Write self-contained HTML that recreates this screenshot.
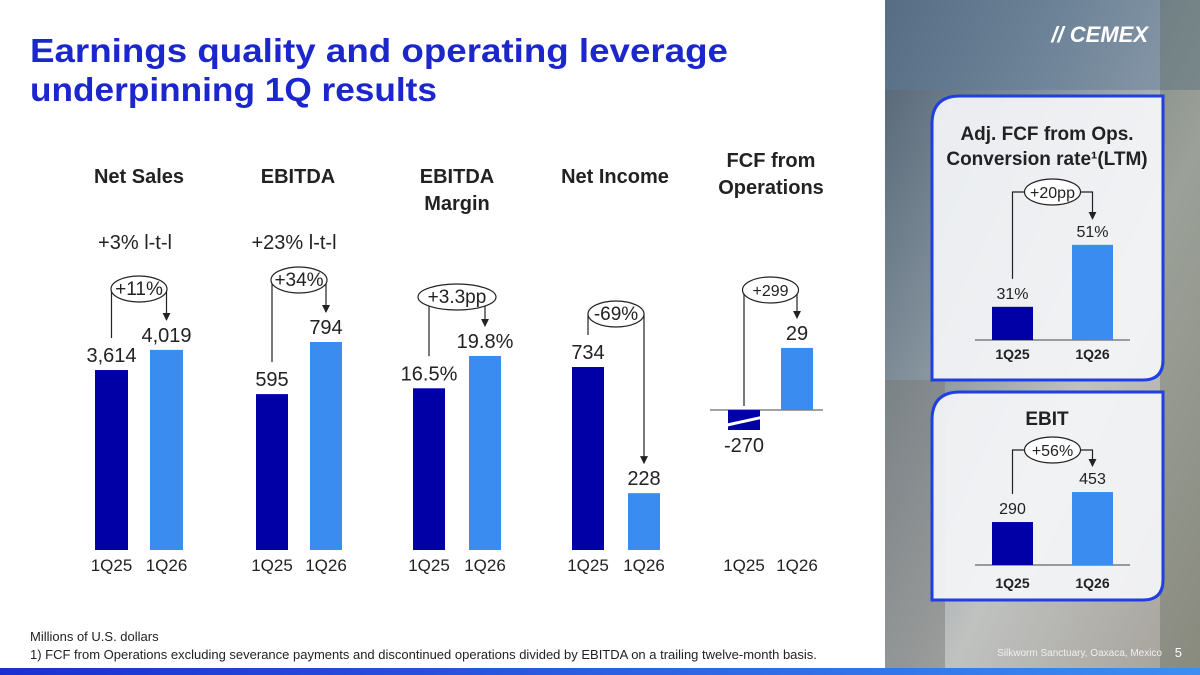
<!DOCTYPE html>
<html><head><meta charset="utf-8"><style>
html,body{margin:0;padding:0;background:#fff}
svg{display:block;font-family:"Liberation Sans",sans-serif}
</style></head><body>
<svg id="s" width="1200" height="675" viewBox="0 0 1200 675" xmlns="http://www.w3.org/2000/svg">
<defs>
<linearGradient id="photo" x1="0" y1="0" x2="1" y2="1">
<stop offset="0" stop-color="#4f6070"/><stop offset="0.3" stop-color="#7f8e99"/><stop offset="0.6" stop-color="#c0c2c0"/><stop offset="1" stop-color="#a39f97"/></linearGradient>
<linearGradient id="strip" x1="0" x2="1"><stop offset="0" stop-color="#1a2fd0"/><stop offset="1" stop-color="#3d8ef2"/></linearGradient>
<marker id="arr2" markerWidth="8" markerHeight="8" refX="4" refY="7" markerUnits="userSpaceOnUse"><path d="M0,0 L8,0 L4,8z" fill="#222"/></marker>
</defs>
<rect x="885" y="0" width="315" height="675" fill="url(#photo)"/>
<rect x="885" y="0" width="315" height="90" fill="#5d7a98" opacity="0.5"/>
<rect x="885" y="380" width="60" height="295" fill="#7a7a78" opacity="0.5"/>
<rect x="1160" y="0" width="40" height="675" fill="#5a6450" opacity="0.35"/>
<text x="1148" y="42" font-size="22" font-weight="bold" font-style="italic" fill="#fff" text-anchor="end">// CEMEX</text>
<path d="M960,96 H1163 V360 Q1163,380 1143,380 H932 V124 Q932,96 960,96Z" fill="#f4f5f8" fill-opacity="0.93" stroke="#1f3fe0" stroke-width="3"/>
<path d="M960,392 H1163 V580 Q1163,600 1143,600 H932 V420 Q932,392 960,392Z" fill="#f4f5f8" fill-opacity="0.93" stroke="#1f3fe0" stroke-width="3"/>
<text font-size="33" font-weight="bold" fill="#1b27cc"><tspan x="30" y="62" textLength="698" lengthAdjust="spacingAndGlyphs">Earnings quality and operating leverage</tspan><tspan x="30" y="101" textLength="407" lengthAdjust="spacingAndGlyphs">underpinning 1Q results</tspan></text>
<g font-size="20" font-weight="bold" fill="#222" text-anchor="middle">
<text x="139" y="183">Net Sales</text>
<text x="298" y="183">EBITDA</text>
<text x="457" y="183"><tspan x="457">EBITDA</tspan><tspan x="457" dy="27">Margin</tspan></text>
<text x="615" y="183">Net Income</text>
<text x="771" y="167"><tspan x="771">FCF from</tspan><tspan x="771" dy="27">Operations</tspan></text>
<text x="1047" y="140" font-size="19"><tspan x="1047">Adj. FCF from Ops.</tspan><tspan x="1047" dy="25">Conversion rate¹(LTM)</tspan></text>
<text x="1047" y="425" font-size="19">EBIT</text>
</g>
<g font-size="20" fill="#222" text-anchor="middle">
<text x="135" y="249">+3% l-t-l</text>
<text x="294" y="249">+23% l-t-l</text>
</g>
<g id="charts"></g>
<text x="30" y="641" font-size="13" fill="#222">Millions of U.S. dollars</text>
<text x="30" y="659" font-size="13" fill="#222">1) FCF from Operations excluding severance payments and discontinued operations divided by EBITDA on a trailing twelve-month basis.</text>
<text x="1162" y="656" font-size="10" fill="#f0f0f0" text-anchor="end">Silkworm Sanctuary, Oaxaca, Mexico</text>
<text x="1182" y="657" font-size="13" fill="#fff" text-anchor="end">5</text>
<rect x="0" y="668" width="1200" height="7" fill="url(#strip)"/>
</svg>
<script>
const categories=['1Q25','1Q26'];
const netSales=[3614,4019];
const ebitda=[595,794];
const ebitdaMargin=[16.5,19.8];
const netIncome=[734,228];
const fcf=[-270,29];
const conversion=[31,51];
const ebit=[290,453];
const changeLabels=['+11%','+34%','+3.3pp','-69%','+299','+20pp','+56%'];

const NS='http://www.w3.org/2000/svg';
const g=document.getElementById('charts');
function mk(tag,attrs,parent){const e=document.createElementNS(NS,tag);for(const k in attrs)e.setAttribute(k,attrs[k]);(parent||g).appendChild(e);return e;}
const fmtInt=v=>Math.round(v).toLocaleString('en-US');
const charts=[
 {key:'net-sales',vals:netSales,x:[95,150],w:33,base:550,k:0.0498,min:0,fmt:fmtInt,oy:289,fs:20,lab:565,bold:false},
 {key:'ebitda',vals:ebitda,x:[256,310],w:32,base:550,k:0.262,min:0,fmt:fmtInt,oy:280,fs:20,lab:565,bold:false},
 {key:'ebitda-margin',vals:ebitdaMargin,x:[413,469],w:32,base:550,k:9.8,min:0,fmt:v=>v.toFixed(1)+'%',oy:297,fs:20,lab:565,bold:false},
 {key:'net-income',vals:netIncome,x:[572,628],w:32,base:550,k:0.2493,min:0,fmt:fmtInt,oy:314,fs:20,lab:565,bold:false},
 {key:'fcf',vals:fcf,x:[728,781],w:32,base:410,k:2.14,min:0,fmt:fmtInt,oy:290,fs:20,lab:565,bold:false,axis:[710,823]},
 {key:'conversion',vals:conversion,x:[992,1072],w:41,base:340,k:3.1,min:20.3,fmt:v=>Math.round(v)+'%',oy:192,fs:16,lab:359,bold:true,axis:[975,1130]},
 {key:'ebit',vals:ebit,x:[992,1072],w:41,base:565,k:0.184,min:56.5,fmt:fmtInt,oy:450,fs:16,lab:588,bold:true,axis:[975,1130]}
];
const colors=['#0000a6','#3a8cf0'];
charts.forEach((c,ci)=>{
 const grp=mk('g',{});
 
 
 if(c.axis){const ax=mk('line',{x1:c.axis[0],x2:c.axis[1],y1:c.base,y2:c.base,stroke:'#444','stroke-width':1},grp);
  
  }
 const tops=[];
 c.vals.forEach((v,i)=>{
  let h,y;
  if(v>=0){h=Math.max(0,(v-c.min)*c.k);y=c.base-h;}
  else{h=20;y=c.base;}
  tops.push(v>=0?y:c.base);
  const r=mk('rect',{x:c.x[i],y:y,width:c.w,height:h,fill:colors[i]},grp);
  
  
  const cx=c.x[i]+c.w/2;
  if(v<0){mk('line',{x1:c.x[i]-10,y1:c.base+17,x2:c.x[i]+c.w+8,y2:c.base+6,stroke:'#fff','stroke-width':3},grp);}
  const t=mk('text',{x:cx,y:v>=0?y-8:c.base+h+22,'font-size':c.fs,'text-anchor':'middle',fill:'#222'},grp);
  t.textContent=c.fmt(v);
  
  
  const l=mk('text',{x:cx,y:c.lab+(c.bold?0:6),'font-size':c.bold?14:17,'font-weight':c.bold?'bold':'normal','text-anchor':'middle',fill:'#222'},grp);
  l.textContent=categories[i];
  
  
 });
 const lx=c.x[0]+c.w/2, rx=c.x[1]+c.w/2;
 const ly=(c.vals[0]>=0?tops[0]-c.fs-12:c.base-4);
 const ry=tops[1]-c.fs-10;
 const ann=mk('path',{d:`M${lx},${ly} V${c.oy} H${rx} V${ry}`,fill:'none',stroke:'#222','stroke-width':1.2,'marker-end':'url(#arr2)'},grp);
 
 
 const ow=c.fs===16?56:Math.max(50,changeLabels[ci].length*11+12);
 const el=mk('ellipse',{cx:(lx+rx)/2,cy:c.oy,rx:ow/2,ry:13,fill:'#fff',stroke:'#222','stroke-width':1.2},grp);
 
 
 const ct=mk('text',{x:(lx+rx)/2,y:c.oy+6,'font-size':ci===4?16:(c.fs===16?16:19),'text-anchor':'middle',fill:'#222'},grp);
 ct.textContent=changeLabels[ci];
 
 
});
</script>
</body></html>
